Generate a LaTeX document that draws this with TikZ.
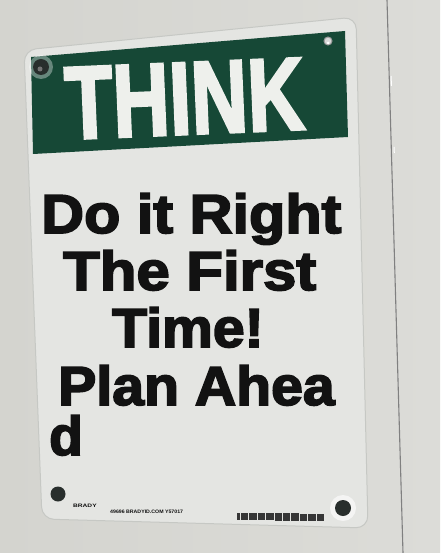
\documentclass[tikz,border=0pt]{standalone}
\usepackage{fontspec}
\setmainfont{Liberation Sans}
\newfontfamily\signfont{Liberation Sans Bold}[FakeBold=3]
\newfontfamily\smallfont{Liberation Sans Bold}
\definecolor{wall}{RGB}{212,212,207}
\definecolor{wallR}{RGB}{220,220,216}
\definecolor{plate}{RGB}{228,229,226}
\definecolor{plateedge}{RGB}{198,200,196}
\definecolor{signgreen}{RGB}{22,72,54}
\definecolor{thinkwhite}{RGB}{238,240,236}
\definecolor{ink}{RGB}{18,18,18}
\definecolor{screw}{RGB}{40,46,44}
\tikzset{
  signline/.style={anchor=base west, inner sep=0, text=ink, font=\fontsize{55}{55}\signfont},
  screwdot/.style={fill=screw, draw=none},
  tiny/.style={anchor=base west, inner sep=0, text=ink, font=\fontsize{5.5}{5.5}\smallfont}
}
\begin{document}
\begin{tikzpicture}[x=1pt,y=-1pt]
\useasboundingbox (0,0) rectangle (440,553);
% wall
\shade[left color=wall, right color=wallR] (0,0) rectangle (440,553);
% wall seam
\draw[draw=black!50, line width=1.1pt] (387,0) -- (403,553);
\draw[draw=white, line width=1pt] (391,76) -- (391.5,86);
\draw[draw=white, line width=1pt] (394,147) -- (394.3,153);
% plate
\draw[fill=plate, draw=plateedge, line width=1pt, rounded corners=12]
  (24,50) -- (356,17) -- (368,528) -- (42,519) -- cycle;
% green band
\fill[signgreen] (31,57) -- (345,31) -- (348,137) -- (33,154) -- cycle;
\node[anchor=base, rotate=2.4, inner sep=0, text=thinkwhite] (think) at (186,134)
  {\scalebox{0.76}[1]{\fontsize{103}{103}\signfont THINK}};
% text lines
\node[signline] (l1) at (41,233) {\scalebox{1.08}[1]{Do it Right}};
\node[signline] (l2) at (63,290) {\scalebox{1.09}[1]{The First}};
\node[signline] (l3) at (112,347) {\scalebox{1.04}[1]{Time!}};
\node[signline] (l4) at (58,405) {\scalebox{1.04}[1]{Plan Ahea}};
\node[signline] (l5) at (49,455) {d};
% screws
\fill[white, opacity=0.35] (41,67) circle (12);
\fill[screwdot] (41,67) circle (8);
\fill[black!55] (40,69) circle (2.5);
\draw[draw=black!40, line width=1pt, fill=white!85!black] (328,41) circle (4);
\fill[white] (328,43) circle (1.5);
\fill[screwdot] (58,494) circle (7.5);
\fill[white, opacity=0.6] (343,508) circle (13);
\fill[screwdot] (343,508) circle (8);
% fine print
\node[tiny] (brand) at (73,507) {\scalebox{1.2}[0.9]{BRADY}};
\node[tiny] (code) at (110,513) {\scalebox{0.95}[0.9]{49696 BRADYID.COM Y57017}};
\foreach \i in {0,...,9} {
  \fill[ink!85] ({241+\i*8.4},{512.5+\i*0.15}) rectangle ++(7.3,7.5);
}
\fill[ink!85] (237,512.5) rectangle ++(3,7.5);
\end{tikzpicture}
\end{document}
